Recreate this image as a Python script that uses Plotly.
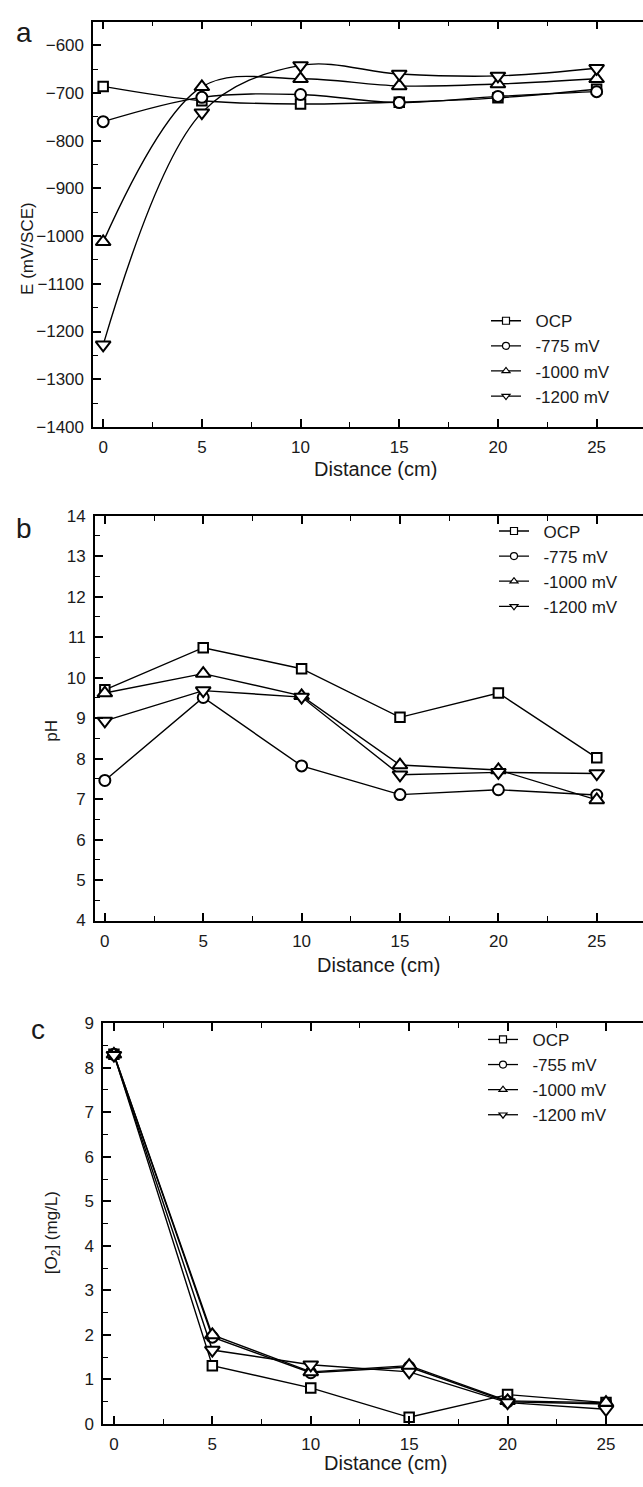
import plotly.graph_objects as go

W, H = 643, 1487

distance = [0, 5, 10, 15, 20, 25]
x_ticks = [0, 5, 10, 15, 20, 25]

series_names_ab = ["OCP", "-775 mV", "-1000 mV", "-1200 mV"]
series_names_c = ["OCP", "-755 mV", "-1000 mV", "-1200 mV"]

E_ocp = [-686, -716, -723, -719, -710, -692]
E_775 = [-760, -709, -703, -720, -707, -697]
E_1000 = [-1012, -687, -670, -685, -681, -670]
E_1200 = [-1228, -741, -642, -660, -664, -648]

pH_ocp = [9.70, 10.74, 10.22, 9.02, 9.62, 8.02]
pH_775 = [7.46, 9.51, 7.82, 7.11, 7.23, 7.10]
pH_1000 = [9.62, 10.10, 9.55, 7.84, 7.72, 6.98]
pH_1200 = [8.93, 9.68, 9.52, 7.60, 7.66, 7.63]

o2_ocp = [8.30, 1.31, 0.81, 0.15, 0.66, 0.48]
o2_755 = [8.30, 1.95, 1.15, 1.28, 0.50, 0.45]
o2_1000 = [8.30, 2.00, 1.17, 1.31, 0.52, 0.48]
o2_1200 = [8.28, 1.66, 1.33, 1.17, 0.48, 0.33]

symbols = ["square", "circle", "triangle-up", "triangle-down"]
sizes = [9.5, 11, 13, 13]

FONT = "Liberation Sans, Arial, sans-serif"
TXT = "#1a1a1a"

def px_x(p):
    return p / W

def px_y(p):
    return 1 - p / H

fig = go.Figure()

panels = [
    dict(ax="", data=[E_ocp, E_775, E_1000, E_1200], names=series_names_ab,
         shape="spline", legend="legend"),
    dict(ax="2", data=[pH_ocp, pH_775, pH_1000, pH_1200], names=series_names_ab,
         shape="linear", legend="legend2"),
    dict(ax="3", data=[o2_ocp, o2_755, o2_1000, o2_1200], names=series_names_c,
         shape="linear", legend="legend3"),
]

for p in panels:
    xa = "x" + p["ax"]
    ya = "y" + p["ax"]
    for vals, name, sym, sz in zip(p["data"], p["names"], symbols, sizes):
        fig.add_trace(go.Scatter(
            x=distance, y=vals, xaxis=xa, yaxis=ya, mode="lines+markers",
            line=dict(color="black", width=1.4, shape=p["shape"], smoothing=1.0),
            marker=dict(symbol=sym, size=sz, color="white",
                        line=dict(color="black", width=2)),
            showlegend=False, name=name))
    # legend entries with small markers
    for name, sym in zip(p["names"], symbols):
        fig.add_trace(go.Scatter(
            x=[None], y=[None], xaxis=xa, yaxis=ya, mode="lines+markers",
            line=dict(color="black", width=1.3),
            marker=dict(symbol=sym, size=7, color="white",
                        line=dict(color="black", width=1.2)),
            showlegend=True, legend=p["legend"], name="\u00a0\u00a0" + name))

axis_common = dict(
    showline=True, linecolor="black", linewidth=1.8,
    ticks="inside", ticklen=8, tickwidth=1.5, tickcolor="black",
    showgrid=False, zeroline=False,
    tickfont=dict(family=FONT, size=17, color=TXT),
    ticklabelstandoff=4,
)

# panel geometry (pixel positions measured from reference)
geo = {
    "": dict(left=93.3, top=12.7, bottom=423.3, xr=[-0.5, 27.35], yr=[-1400, -550],
             ydt=100, ymin=50),
    "2": dict(left=95.0, top=513.3, bottom=923.3, xr=[-0.5, 27.35], yr=[4, 14],
              ydt=1, ymin=0.5),
    "3": dict(left=103.3, top=1027.3, bottom=1433.3, xr=[-0.54, 26.88], yr=[0, 9],
              ydt=1, ymin=0.5),
}

layout = {}
for k, g in geo.items():
    layout["xaxis" + k] = dict(
        axis_common, domain=[px_x(g["left"]), 1.0], range=g["xr"],
        anchor="y" + k, tickmode="array", tickvals=x_ticks,
        mirror="ticks",
        minor=dict(ticks="inside", ticklen=5, tickwidth=1.3, tickcolor="black", dtick=2.5, tick0=0),
    )
    layout["yaxis" + k] = dict(
        axis_common, domain=[px_y(g["bottom"]), px_y(g["top"])], range=g["yr"],
        anchor="x" + k, dtick=g["ydt"], tick0=0,
        minor=dict(ticks="inside", ticklen=5, tickwidth=1.3, tickcolor="black", dtick=g["ymin"], tick0=0),
    )

leg_common = dict(font=dict(family=FONT, size=17, color=TXT),
                  bgcolor="rgba(0,0,0,0)", borderwidth=0,
                  xanchor="left", yanchor="top", tracegroupgap=0, itemwidth=30)

layout["legend"] = dict(leg_common, x=px_x(486), y=px_y(298))
layout["legend2"] = dict(leg_common, x=px_x(494), y=px_y(511))
layout["legend3"] = dict(leg_common, x=px_x(483), y=px_y(1026))

annotations = []
def ann(text, x, y, size, angle=0):
    annotations.append(dict(text=text, x=px_x(x), y=px_y(y), xref="paper", yref="paper",
                            showarrow=False, xanchor="center", yanchor="middle",
                            textangle=angle,
                            font=dict(family=FONT, size=size, color=TXT)))

ann("a", 24, 23.6, 28)
ann("b", 24, 526.6, 28)
ann("c", 38, 1033.6, 28)
ann("E (mV/SCE)", 28, 243, 17, -90)
ann("pH", 52, 731, 17, -90)
ann("[O<sub>2</sub>] (mg/L)", 53, 1240, 17, -90)
ann("Distance (cm)", 375, 466, 20)
ann("Distance (cm)", 378, 968, 20)
ann("Distance (cm)", 385, 1473, 20)

fig.update_layout(
    width=W, height=H, autosize=False,
    margin=dict(l=0, r=0, t=0, b=0),
    paper_bgcolor="white", plot_bgcolor="white",
    annotations=annotations,
    **layout,
)

fig.write_html("out.html", config={"displayModeBar": False},
               post_script="document.body.style.margin='0';document.body.style.padding='0';document.body.style.overflow='hidden';")
